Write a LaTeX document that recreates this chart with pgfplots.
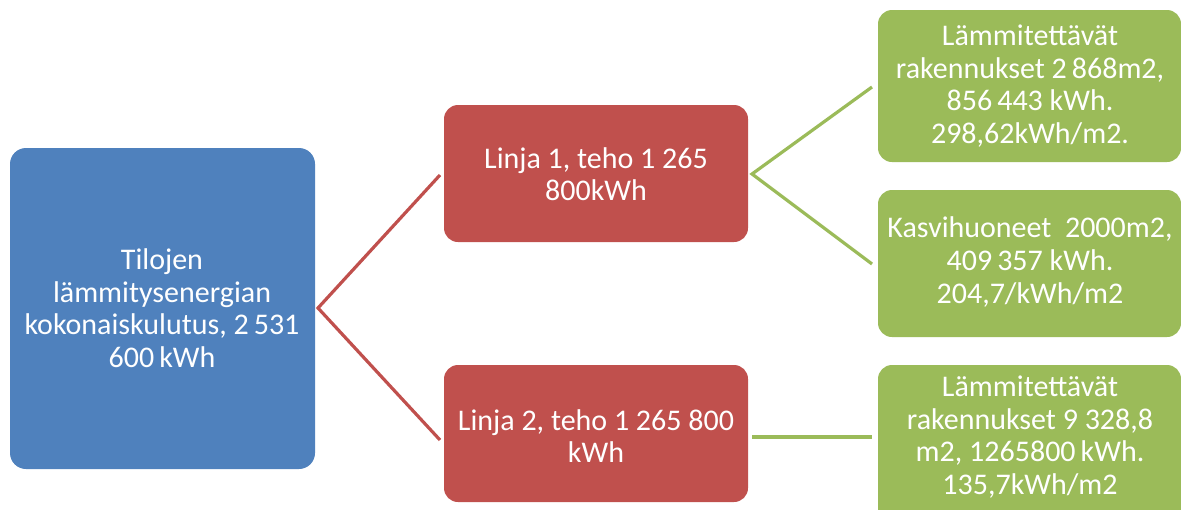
\documentclass[border=0pt]{standalone}
\usepackage{pgfplots}
\pgfplotsset{compat=1.18}
\usepackage{fontspec}
\setmainfont{Carlito}
\definecolor{cblue}{HTML}{4F81BD}
\definecolor{cred}{HTML}{C0504D}
\definecolor{cgreen}{HTML}{9BBB59}
\begin{document}
\begin{tikzpicture}
\begin{axis}[
  width=590.5pt, height=254.5pt, scale only axis,
  xmin=0, xmax=1181, ymin=0, ymax=509, y dir=reverse,
  hide axis, clip=true,
]
% connectors
\addplot[cred, line width=1.6pt, mark=none] coordinates {(440,175) (318,308) (440,440)};
\addplot[cgreen, line width=1.6pt, mark=none] coordinates {(872,87) (752,174) (872,264)};
\addplot[cgreen, line width=1.6pt, mark=none] coordinates {(752,437) (872,437)};
% boxes
\addplot[fill=cblue, draw=none, rounded corners=8pt, mark=none] coordinates {(10,148) (315,148) (315,469) (10,469)} -- cycle;
\addplot[fill=cred, draw=none, rounded corners=7pt, mark=none] coordinates {(444,105) (748,105) (748,242) (444,242)} -- cycle;
\addplot[fill=cred, draw=none, rounded corners=7pt, mark=none] coordinates {(444,365) (748,365) (748,502) (444,502)} -- cycle;
\addplot[fill=cgreen, draw=none, rounded corners=7pt, mark=none] coordinates {(878,10) (1181,10) (1181,162) (878,162)} -- cycle;
\addplot[fill=cgreen, draw=none, rounded corners=7pt, mark=none] coordinates {(878,190) (1181,190) (1181,337) (878,337)} -- cycle;
\addplot[fill=cgreen, draw=none, rounded corners=7pt, mark=none] coordinates {(878,365) (1181,365) (1181,530) (878,530)} -- cycle;
% texts
\tikzset{lbl/.style={text=white, align=center, font=\fontsize{15pt}{16.3pt}\selectfont, inner sep=0pt}}
\node[lbl] at (axis cs:162,308) {Tilojen\\lämmitysenergian\\kokonaiskulutus, 2\,531\\600\,kWh};
\node[lbl] at (axis cs:596,174) {Linja 1, teho 1 265\\800kWh};
\node[lbl] at (axis cs:596,436) {Linja 2, teho 1 265 800\\kWh};
\node[lbl] at (axis cs:1030,86) {Lämmitettävät\\rakennukset 2\,868m2,\\856\,443 kWh.\\298,62kWh/m2.};
\node[lbl] at (axis cs:1030,262) {Kasvihuoneet~~2000m2,\\409\,357 kWh.\\204,7/kWh/m2};
\node[lbl] at (axis cs:1030,437) {Lämmitettävät\\rakennukset 9 328,8\\m2, 1265800\,kWh.\\135,7kWh/m2};
\end{axis}
\pgfresetboundingbox
\useasboundingbox (current axis.south west) rectangle (current axis.north east);
\end{tikzpicture}
\end{document}
